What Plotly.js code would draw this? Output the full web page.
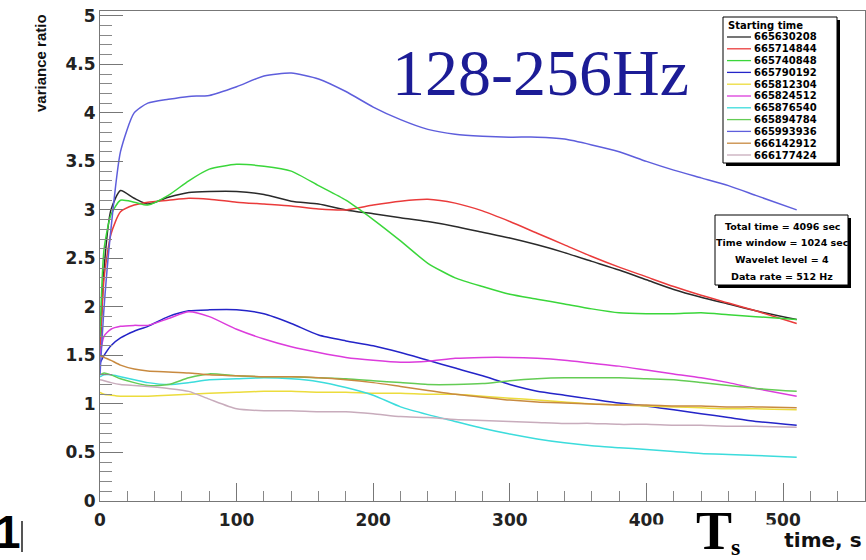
<!DOCTYPE html>
<html>
<head>
<meta charset="utf-8">
<script src="https://cdn.plot.ly/plotly-3.0.1.min.js"></script>
<style>html,body{margin:0;padding:0;background:#fff;}#chart{width:866px;height:560px;}</style>
</head>
<body>
<div id="chart"></div>
<script>
// ---- data ----
const timeS = [0, 3, 8, 15, 25, 35, 50, 65, 80, 100, 120, 140, 160, 180, 200, 220, 240, 260, 280, 300, 320, 340, 360, 380, 400, 420, 440, 460, 480, 510];

const run665630208 = [1.50, 2.40, 3.00, 3.20, 3.12, 3.06, 3.13, 3.18, 3.19, 3.19, 3.16, 3.09, 3.06, 3.00, 2.96, 2.92, 2.88, 2.83, 2.77, 2.71, 2.64, 2.56, 2.47, 2.38, 2.28, 2.18, 2.10, 2.03, 1.96, 1.87];
const run665714844 = [1.55, 2.30, 2.75, 2.98, 3.05, 3.08, 3.10, 3.12, 3.11, 3.08, 3.06, 3.04, 3.01, 3.00, 3.05, 3.09, 3.11, 3.07, 2.99, 2.88, 2.76, 2.64, 2.52, 2.41, 2.31, 2.21, 2.12, 2.04, 1.96, 1.83];
const run665740848 = [1.70, 2.60, 2.95, 3.10, 3.08, 3.05, 3.15, 3.30, 3.42, 3.47, 3.45, 3.40, 3.25, 3.10, 2.90, 2.68, 2.45, 2.30, 2.21, 2.13, 2.08, 2.03, 1.98, 1.94, 1.93, 1.93, 1.94, 1.92, 1.90, 1.87];
const run665790192 = [1.42, 1.50, 1.60, 1.68, 1.75, 1.80, 1.90, 1.96, 1.97, 1.97, 1.93, 1.83, 1.71, 1.65, 1.60, 1.53, 1.45, 1.37, 1.29, 1.20, 1.13, 1.09, 1.05, 1.01, 0.98, 0.94, 0.90, 0.86, 0.82, 0.78];
const run665812304 = [1.12, 1.10, 1.09, 1.08, 1.08, 1.08, 1.09, 1.10, 1.11, 1.12, 1.13, 1.13, 1.12, 1.12, 1.11, 1.11, 1.10, 1.10, 1.08, 1.06, 1.04, 1.02, 1.00, 0.99, 0.98, 0.97, 0.96, 0.95, 0.95, 0.94];
const run665824512 = [1.50, 1.70, 1.77, 1.80, 1.81, 1.81, 1.88, 1.95, 1.90, 1.77, 1.67, 1.59, 1.53, 1.48, 1.45, 1.43, 1.44, 1.47, 1.48, 1.48, 1.47, 1.45, 1.42, 1.39, 1.35, 1.31, 1.27, 1.22, 1.16, 1.08];
const run665876540 = [1.28, 1.30, 1.30, 1.28, 1.25, 1.22, 1.20, 1.22, 1.25, 1.26, 1.27, 1.26, 1.23, 1.17, 1.09, 0.97, 0.89, 0.82, 0.75, 0.69, 0.64, 0.60, 0.57, 0.55, 0.53, 0.51, 0.49, 0.48, 0.47, 0.45];
const run665894784 = [1.30, 1.32, 1.30, 1.26, 1.22, 1.19, 1.20, 1.27, 1.31, 1.29, 1.28, 1.28, 1.27, 1.26, 1.24, 1.22, 1.20, 1.20, 1.21, 1.24, 1.26, 1.27, 1.27, 1.27, 1.26, 1.25, 1.22, 1.19, 1.16, 1.13];
const run665993936 = [1.30, 2.00, 2.80, 3.60, 4.00, 4.10, 4.14, 4.17, 4.18, 4.27, 4.38, 4.41, 4.35, 4.22, 4.06, 3.93, 3.83, 3.78, 3.76, 3.75, 3.75, 3.73, 3.67, 3.60, 3.50, 3.41, 3.33, 3.25, 3.15, 3.00];
const run666142912 = [1.50, 1.48, 1.45, 1.40, 1.36, 1.34, 1.33, 1.32, 1.30, 1.29, 1.28, 1.28, 1.27, 1.25, 1.22, 1.18, 1.14, 1.10, 1.07, 1.04, 1.02, 1.01, 1.00, 0.99, 0.99, 0.98, 0.98, 0.97, 0.97, 0.96];
const run666177424 = [1.25, 1.24, 1.22, 1.20, 1.19, 1.18, 1.16, 1.13, 1.05, 0.95, 0.93, 0.93, 0.92, 0.92, 0.90, 0.87, 0.86, 0.84, 0.83, 0.82, 0.81, 0.80, 0.80, 0.79, 0.79, 0.78, 0.78, 0.77, 0.77, 0.76];

const runLabels = ["665630208", "665714844", "665740848", "665790192", "665812304", "665824512", "665876540", "665894784", "665993936", "666142912", "666177424"];
const runValues = [run665630208, run665714844, run665740848, run665790192, run665812304, run665824512, run665876540, run665894784, run665993936, run666142912, run666177424];
const runColors = ["#2a2a2a", "#ea3b3b", "#3ad63a", "#2424c8", "#ecdc3c", "#dc3cdc", "#3cdcdc", "#64cc55", "#5e5edc", "#c88a40", "#c8acbc"];

const infoLines = ["Total time = 4096 sec", "Time window = 1024 sec", "Wavelet level = 4", "Data rate = 512 Hz"];
const yTickVals = [0, 0.5, 1, 1.5, 2, 2.5, 3, 3.5, 4, 4.5, 5];
const xTickVals = [0, 100, 200, 300, 400, 500];

// ---- page geometry ----
const W = 866, H = 560, ML = 100, MR = 1, MT = 11, MB = 59;
const px = x => (x - ML) / (W - ML - MR);
const py = y => (H - MB - y) / (H - MT - MB);

const traces = runValues.map((vals, i) => ({
  x: timeS, y: vals, type: 'scatter', mode: 'lines', name: runLabels[i],
  line: {color: runColors[i], width: 1.5, shape: 'spline', smoothing: 0.6},
  showlegend: false, hoverinfo: 'skip'
}));

const shapes = [];
const annotations = [];
const bold = (fam, size, color) => ({family: fam, size: size, color: color || '#000', weight: 'bold'});

// legend box (manual, ROOT style with shadow)
shapes.push({type: 'rect', xref: 'paper', yref: 'paper', x0: px(726), x1: px(840), y0: py(166), y1: py(20), fillcolor: '#000', line: {width: 0}, layer: 'above'});
shapes.push({type: 'rect', xref: 'paper', yref: 'paper', x0: px(723), x1: px(837), y0: py(163), y1: py(17), fillcolor: '#fff', line: {color: '#000', width: 1}, layer: 'above'});
annotations.push({xref: 'paper', yref: 'paper', x: px(726), y: py(25), xanchor: 'left', yanchor: 'middle', text: 'Starting time', showarrow: false, font: bold('DejaVu Sans', 10)});
runLabels.forEach((lab, i) => {
  const yy = 37 + 11.8 * i;
  shapes.push({type: 'line', xref: 'paper', yref: 'paper', x0: px(727), x1: px(751), y0: py(yy), y1: py(yy), line: {color: runColors[i], width: 1.3}, layer: 'above'});
  annotations.push({xref: 'paper', yref: 'paper', x: px(752), y: py(yy), xanchor: 'left', yanchor: 'middle', text: lab, showarrow: false, font: bold('DejaVu Sans', 10)});
});

// info box
shapes.push({type: 'rect', xref: 'paper', yref: 'paper', x0: px(718), x1: px(851), y0: py(288), y1: py(218), fillcolor: '#000', line: {width: 0}, layer: 'above'});
shapes.push({type: 'rect', xref: 'paper', yref: 'paper', x0: px(715), x1: px(848), y0: py(285), y1: py(215), fillcolor: '#fff', line: {color: '#000', width: 1}, layer: 'above'});
infoLines.forEach((t, i) => {
  annotations.push({xref: 'paper', yref: 'paper', x: px(782), y: py(226 + 16.7 * i), xanchor: 'center', yanchor: 'middle', text: t, showarrow: false, font: bold('DejaVu Sans', 9.5)});
});

// titles
annotations.push({xref: 'paper', yref: 'paper', x: px(40), y: py(12), xanchor: 'center', yanchor: 'top', textangle: -90, text: 'variance ratio', showarrow: false, font: bold('Liberation Sans', 15, '#111')});
annotations.push({xref: 'paper', yref: 'paper', x: px(864), y: py(540), xanchor: 'right', yanchor: 'middle', text: 'Starting time, s', showarrow: false, font: bold('DejaVu Sans', 20, '#111')});
// white patch + T_s overlay
annotations.push({xref: 'paper', yref: 'paper', x: px(652), y: py(524), xanchor: 'left', yanchor: 'top', text: ' ', showarrow: false, bgcolor: '#fff', width: 125, height: 36, borderpad: 0, font: {size: 10}});
annotations.push({xref: 'paper', yref: 'paper', x: px(714), y: py(531), xanchor: 'center', yanchor: 'middle', text: 'T', showarrow: false, font: bold('Liberation Serif', 54)});
annotations.push({xref: 'paper', yref: 'paper', x: px(735), y: py(547), xanchor: 'center', yanchor: 'middle', text: 's', showarrow: false, font: bold('Liberation Serif', 24)});
// band label
annotations.push({xref: 'paper', yref: 'paper', x: px(540), y: py(72), xanchor: 'center', yanchor: 'middle', text: '128-256Hz', showarrow: false, font: {family: 'Liberation Serif', size: 66, color: '#1c1c96'}});
// cut-off fragment at bottom left
annotations.push({xref: 'paper', yref: 'paper', x: px(-7), y: py(532), xanchor: 'left', yanchor: 'middle', text: '1', showarrow: false, font: bold('Liberation Sans', 46)});
shapes.push({type: 'line', xref: 'paper', yref: 'paper', x0: px(22), x1: px(22), y0: py(521), y1: py(552), line: {color: '#555', width: 2}});

const layout = {
  width: W, height: H,
  margin: {l: ML, r: MR, t: MT, b: MB, pad: 0},
  paper_bgcolor: '#fff', plot_bgcolor: '#fff',
  showlegend: false,
  xaxis: {
    range: [0, 560], tickvals: xTickVals, ticktext: xTickVals.map(String),
    ticks: 'inside', ticklen: 18, tickwidth: 1, tickcolor: '#777',
    minor: {dtick: 20, tick0: 0, ticks: 'inside', ticklen: 10, tickcolor: '#888', tickwidth: 1, showgrid: false},
    showline: true, linecolor: '#777', linewidth: 1, mirror: true,
    showgrid: false, zeroline: false, ticklabelstandoff: 4,
    tickfont: bold('DejaVu Sans', 17, '#222'), fixedrange: true
  },
  yaxis: {
    range: [0, 5.05], tickvals: yTickVals, ticktext: yTickVals.map(String),
    ticks: 'inside', ticklen: 23, tickwidth: 1, tickcolor: '#777',
    minor: {dtick: 0.1, tick0: 0, ticks: 'inside', ticklen: 12, tickcolor: '#888', tickwidth: 1, showgrid: false},
    showline: true, linecolor: '#777', linewidth: 1, mirror: true,
    showgrid: false, zeroline: false, ticklabelstandoff: 0,
    tickfont: bold('DejaVu Sans', 17, '#222'), fixedrange: true
  },
  shapes: shapes,
  annotations: annotations
};

Plotly.newPlot('chart', traces, layout, {staticPlot: true, displayModeBar: false});
</script>
</body>
</html>
